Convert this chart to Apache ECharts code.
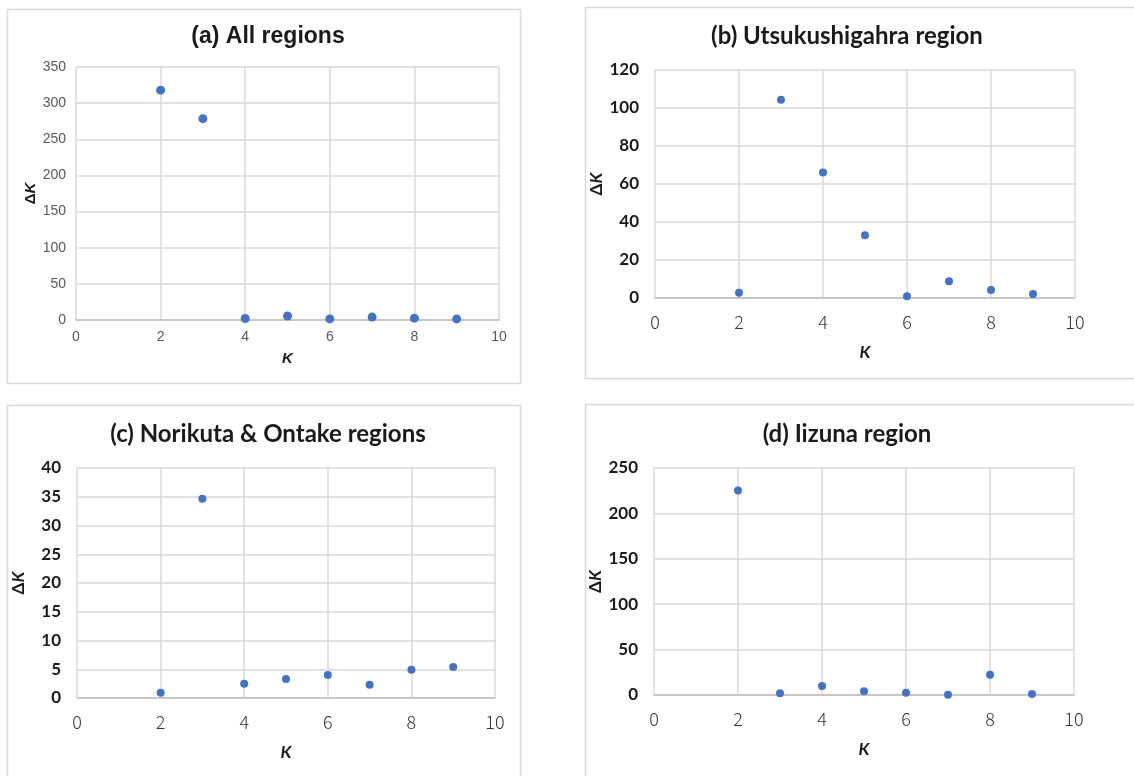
<!DOCTYPE html>
<html><head><meta charset="utf-8">
<script src="https://cdn.jsdelivr.net/npm/echarts@6/dist/echarts.min.js"></script>
<style>html,body{margin:0;padding:0;background:#fff}#c{width:1134px;height:776px}</style>
</head><body><div id="c"></div>
<script>
var kValues = [2, 3, 4, 5, 6, 7, 8, 9];
var titles = ['(a) All regions', '(b) Utsukushigahra region', '(c) Norikuta & Ontake regions', '(d) Iizuna region'];
var deltaAll = [318, 278.5, 2, 5.5, 1.5, 4, 2.5, 1.5];
var deltaUtsukushigahara = [2.8, 104.3, 66.1, 33.0, 0.9, 8.8, 4.2, 2.1];
var deltaNorikura = [0.93, 34.65, 2.5, 3.3, 4.0, 2.3, 4.9, 5.4];
var deltaIizuna = [225.1, 1.8, 9.9, 4.0, 2.6, 0.4, 22.3, 1.1];
var yMax = [350, 120, 40, 250];
var yStep = [50, 20, 5, 50];
var xTicks = [0, 2, 4, 6, 8, 10];

var seriesData = [deltaAll, deltaUtsukushigahara, deltaNorikura, deltaIizuna];

var grids = [
  {left: 76, top: 67, width: 423, height: 253},
  {left: 655, top: 70, width: 420, height: 228},
  {left: 77, top: 468, width: 418, height: 230},
  {left: 654, top: 468, width: 420, height: 227}
];
var titlePos = [{c: 263, t: 20}, {c: 842, t: 19}, {c: 263, t: 417}, {c: 842, t: 417}];
var arialFam = 'Arial';
var calFam = 'Lato';
var fams = [arialFam, calFam, calFam, calFam];

var chart = echarts.init(document.getElementById('c'), null, {renderer: 'canvas'});
var option = {
  animation: false,
  backgroundColor: '#fff',
  graphic: [
    {type: 'rect', shape: {x: 7.5, y: 9.5, width: 513, height: 374}, style: {fill: 'none', stroke: '#d9d9d9', lineWidth: 1.5}, silent: true},
    {type: 'rect', shape: {x: 585.5, y: 7.5, width: 560, height: 371}, style: {fill: 'none', stroke: '#d9d9d9', lineWidth: 1.5}, silent: true},
    {type: 'rect', shape: {x: 7.5, y: 405.5, width: 513, height: 380}, style: {fill: 'none', stroke: '#d9d9d9', lineWidth: 1.5}, silent: true},
    {type: 'rect', shape: {x: 585.5, y: 404.5, width: 560, height: 380}, style: {fill: 'none', stroke: '#d9d9d9', lineWidth: 1.5}, silent: true}
  ],
  title: titles.map(function (t, i) {
    return {
      text: t, left: titlePos[i].c, top: titlePos[i].t, textAlign: 'center',
      textStyle: {fontFamily: fams[i], fontWeight: 'bold', fontSize: i === 0 ? 23 : 24, color: '#1a1a1a'}
    };
  }),
  grid: grids.map(function (g) { return Object.assign({containLabel: false, show: false}, g); }),
  xAxis: grids.map(function (g, i) {
    return {
      type: 'value', gridIndex: i, min: 0, max: 10, interval: 2,
      name: 'K', nameLocation: 'middle', nameGap: i === 0 ? 31 : 46,
      nameTextStyle: {fontFamily: fams[i], fontStyle: 'italic', fontWeight: 'bold', fontSize: i === 0 ? 15 : 17, color: '#1a1a1a'},
      axisLine: {show: true, lineStyle: {color: '#bfbfbf', width: 1.5}},
      axisTick: {show: false},
      axisLabel: {
        margin: i === 0 ? 10 : 15,
        fontFamily: i === 0 ? arialFam : 'Noto Sans CJK JP',
        fontWeight: i === 0 ? 'normal' : 300,
        fontSize: i === 0 ? 14 : 18, color: i === 0 ? '#595959' : '#333',
        customValues: xTicks
      },
      splitLine: {show: true, lineStyle: {color: '#d9d9d9', width: 1.5}}
    };
  }),
  yAxis: grids.map(function (g, i) {
    return {
      type: 'value', gridIndex: i, min: 0, max: yMax[i], interval: yStep[i],
      name: '{d|Δ}{k|K}', nameLocation: 'middle', nameRotate: 90,
      nameGap: i === 0 ? 37 : 50,
      nameTextStyle: {
        rich: {
          d: {fontFamily: fams[i], fontWeight: 'bold', fontSize: i === 0 ? 15 : 17, color: '#1a1a1a'},
          k: {fontFamily: fams[i], fontWeight: 'bold', fontStyle: 'italic', fontSize: i === 0 ? 15 : 17, color: '#1a1a1a'}
        }
      },
      axisLine: {show: false},
      axisTick: {show: false},
      axisLabel: {
        margin: i === 0 ? 10 : 16,
        fontFamily: fams[i], fontWeight: i === 0 ? 'normal' : 'bold',
        fontSize: i === 0 ? 14 : 17, color: i === 0 ? '#595959' : '#1a1a1a'
      },
      splitLine: {show: true, lineStyle: {color: '#d9d9d9', width: 1.5}}
    };
  }),
  series: seriesData.map(function (vals, i) {
    return {
      type: 'scatter', xAxisIndex: i, yAxisIndex: i,
      symbol: 'circle', symbolSize: i === 0 ? 9 : 8,
      itemStyle: {color: '#4472c4', opacity: 1},
      data: kValues.map(function (k, j) { return [k, vals[j]]; })
    };
  })
};
chart.setOption(option);
</script>
</body></html>
